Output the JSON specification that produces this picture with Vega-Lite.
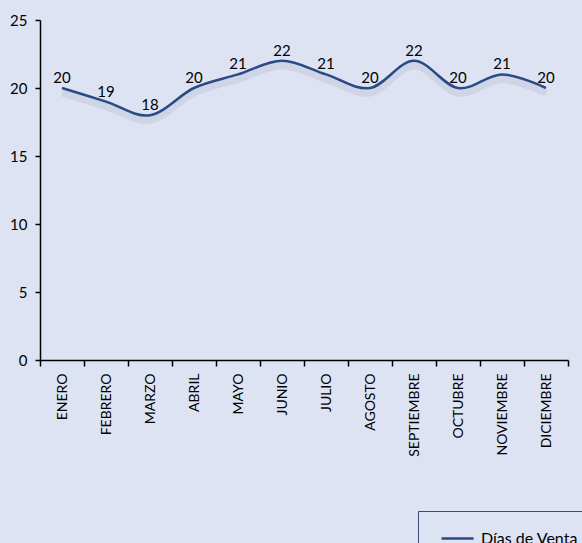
{
  "$schema": "https://vega.github.io/schema/vega-lite/v6.json",
  "autosize": "none",
  "width": 528,
  "height": 340,
  "padding": {"left": 40, "top": 20, "right": 14, "bottom": 183},
  "background": "#dde3f3",
  "config": {
    "view": {"stroke": null},
    "font": "Lato"
  },
  "data": {
    "values": [
      {"mes": "ENERO", "dias": 20, "serie": "Días de Venta"},
      {"mes": "FEBRERO", "dias": 19, "serie": "Días de Venta"},
      {"mes": "MARZO", "dias": 18, "serie": "Días de Venta"},
      {"mes": "ABRIL", "dias": 20, "serie": "Días de Venta"},
      {"mes": "MAYO", "dias": 21, "serie": "Días de Venta"},
      {"mes": "JUNIO", "dias": 22, "serie": "Días de Venta"},
      {"mes": "JULIO", "dias": 21, "serie": "Días de Venta"},
      {"mes": "AGOSTO", "dias": 20, "serie": "Días de Venta"},
      {"mes": "SEPTIEMBRE", "dias": 22, "serie": "Días de Venta"},
      {"mes": "OCTUBRE", "dias": 20, "serie": "Días de Venta"},
      {"mes": "NOVIEMBRE", "dias": 21, "serie": "Días de Venta"},
      {"mes": "DICIEMBRE", "dias": 20, "serie": "Días de Venta"}
    ]
  },
  "encoding": {
    "x": {
      "field": "mes",
      "type": "nominal",
      "sort": null,
      "scale": {"paddingInner": 0, "paddingOuter": 0},
      "axis": {
        "title": null,
        "labelAngle": -90,
        "labelAlign": "right",
        "labelBaseline": "middle",
        "labelFontSize": 14,
        "labelColor": "#000000",
        "labelPadding": 7,
        "domainColor": "#000000",
        "domainWidth": 1.5,
        "tickColor": "#000000",
        "tickWidth": 1.5,
        "tickSize": 6,
        "tickBand": "extent",
        "grid": false
      }
    },
    "y": {
      "field": "dias",
      "type": "quantitative",
      "scale": {"domain": [0, 25], "nice": false},
      "axis": {
        "title": null,
        "values": [0, 5, 10, 15, 20, 25],
        "labelFontSize": 15,
        "labelColor": "#000000",
        "labelPadding": 8,
        "domainColor": "#000000",
        "domainWidth": 1.5,
        "tickColor": "#000000",
        "tickWidth": 1.5,
        "tickSize": 5,
        "grid": false
      }
    }
  },
  "layer": [
    {
      "mark": {"type": "line", "interpolate": "cardinal", "strokeWidth": 7, "color": "#c3c9da", "opacity": 0.55, "yOffset": 5}
    },
    {
      "mark": {"type": "line", "interpolate": "cardinal", "strokeWidth": 2.5},
      "encoding": {
        "color": {
          "field": "serie",
          "type": "nominal",
          "scale": {"range": ["#2a4a86"]},
          "legend": {
            "title": null,
            "orient": "none",
            "legendX": 378,
            "legendY": 491,
            "direction": "vertical",
            "symbolType": "stroke",
            "symbolSize": 1024,
            "symbolStrokeWidth": 2.5,
            "symbolOffset": 12,
            "labelFontSize": 16,
            "labelColor": "#000000",
            "strokeColor": "#3b4a6e",
            "fillColor": "#dde3f3",
            "padding": 10,
            "labelOffset": 6
          }
        }
      }
    },
    {
      "mark": {"type": "text", "dy": -10, "fontSize": 15, "color": "#000000"},
      "encoding": {
        "text": {"field": "dias", "type": "quantitative"}
      }
    }
  ]
}
